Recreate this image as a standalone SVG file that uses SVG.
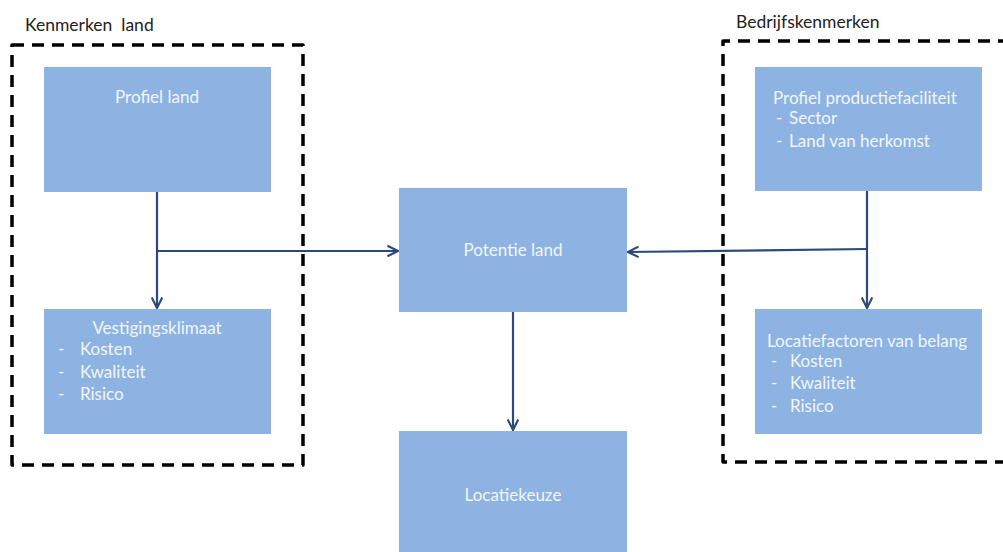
<svg xmlns="http://www.w3.org/2000/svg" width="1003" height="552" viewBox="0 0 1003 552">
<defs>
<style>
.frame{fill:none;stroke:#000;stroke-width:3.5;stroke-dasharray:12 8;stroke-linejoin:round}
.box{fill:#8db3e2}
.t{font-family:Lato,"Liberation Sans",sans-serif;font-size:17px;fill:#f2f6fc}
.c{text-anchor:middle}
.lbl{font-family:Lato,"Liberation Sans",sans-serif;font-size:17.5px;fill:#222}
.con{fill:none;stroke:#2b4a77;stroke-width:2.2;marker-end:url(#ah)}
</style>
<marker id="ah" viewBox="0 0 10 10" refX="9" refY="5" markerWidth="6" markerHeight="6" orient="auto" markerUnits="strokeWidth">
<path d="M1,1 L9,5 L1,9" fill="none" stroke="#2b4a77" stroke-width="1.6"/>
</marker>
</defs>
<rect width="1003" height="552" fill="#fff"/>
<g id="frame-left">
<rect class="frame" x="12" y="45" width="291" height="420"/>
<text class="lbl" x="25" y="31" xml:space="preserve">Kenmerken  land</text>
</g>
<g id="frame-right">
<path class="frame" d="M1010,41 H723 V462 H1010"/>
<text class="lbl" x="736" y="28">Bedrijfskenmerken</text>
</g>
<g id="connectors">
<path class="con" d="M157,192 V308"/>
<path class="con" d="M157,251 H398"/>
<path class="con" d="M867,191 V308"/>
<path class="con" d="M867,249 L628,252"/>
<path class="con" d="M513,312 V430"/>
</g>
<g id="profiel-land">
<rect class="box" x="44" y="67" width="227" height="125"/>
<text class="t c" x="157" y="103">Profiel land</text>
</g>
<g id="vestigingsklimaat">
<rect class="box" x="44" y="309" width="227" height="125"/>
<text class="t c" x="157" y="334">Vestigingsklimaat</text>
<text class="t" x="58" y="355">-</text><text class="t" x="80" y="355">Kosten</text>
<text class="t" x="58" y="378">-</text><text class="t" x="80" y="378">Kwaliteit</text>
<text class="t" x="58" y="400">-</text><text class="t" x="80" y="400">Risico</text>
</g>
<g id="potentie-land">
<rect class="box" x="399" y="188" width="228" height="124"/>
<text class="t c" x="513" y="256">Potentie land</text>
</g>
<g id="locatiekeuze">
<rect class="box" x="399" y="431" width="228" height="130"/>
<text class="t c" x="513" y="501">Locatiekeuze</text>
</g>
<g id="profiel-productiefaciliteit">
<rect class="box" x="755" y="67" width="227" height="124"/>
<text class="t" x="773" y="104">Profiel productiefaciliteit</text>
<text class="t" x="776" y="124">-</text><text class="t" x="789" y="124">Sector</text>
<text class="t" x="776" y="147">-</text><text class="t" x="789" y="147">Land van herkomst</text>
</g>
<g id="locatiefactoren">
<rect class="box" x="755" y="309" width="227" height="125"/>
<text class="t" x="767" y="347">Locatiefactoren van belang</text>
<text class="t" x="771" y="367">-</text><text class="t" x="790" y="367">Kosten</text>
<text class="t" x="771" y="389">-</text><text class="t" x="790" y="389">Kwaliteit</text>
<text class="t" x="771" y="412">-</text><text class="t" x="790" y="412">Risico</text>
</g>
</svg>
